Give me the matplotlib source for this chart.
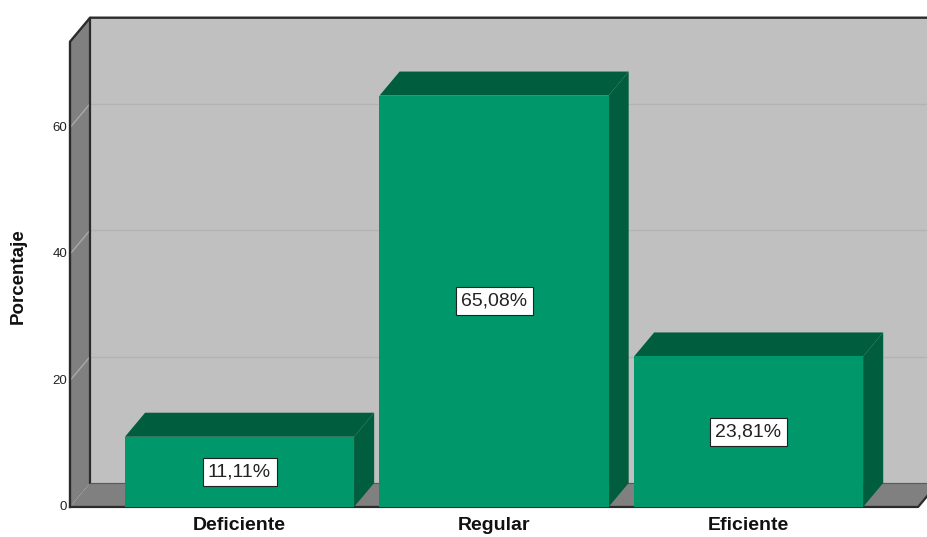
import matplotlib.pyplot as plt
from matplotlib.patches import Polygon

# data
categories = ['Deficiente', 'Regular', 'Eficiente']
percentages = [11.11, 65.08, 23.81]
value_labels = ['11,11%', '65,08%', '23,81%']
y_ticks = [0, 20, 40, 60]

# colours of the 3d box
front_green = '#00976a'
dark_green = '#005e3e'
back_wall = '#c0c0c0'
side_wall = '#808080'
edge = '#2b2b2b'

plt.rcParams['font.family'] = ['Liberation Sans', 'DejaVu Sans']


def poly(ax, pts, color, z, ec='none', lw=0):
    ax.add_patch(Polygon(pts, closed=True, facecolor=color, edgecolor=ec,
                         linewidth=lw, zorder=z))


def draw_box(ax, x_left, x_right, y_top, dx, dy):
    #back wall, left wall and floor
    poly(ax, [(x_left + dx, dy), (x_right + dx, dy), (x_right + dx, y_top + dy),
              (x_left + dx, y_top + dy)], back_wall, 1)
    poly(ax, [(x_left, 0), (x_left, y_top), (x_left + dx, y_top + dy),
              (x_left + dx, dy)], side_wall, 1)
    poly(ax, [(x_left, 0), (x_right, 0), (x_right + dx, dy),
              (x_left + dx, dy)], side_wall, 1)

    #grid lines on the back wall and the left wall
    for t in y_ticks[1:]:
        ax.plot([x_left + dx, x_right + dx], [t + dy, t + dy], color='#b3b3b3',
                lw=1, zorder=2)
        ax.plot([x_left, x_left + dx], [t, t + dy], color='#a9a9a9', lw=1, zorder=2)

    #outlines
    ax.plot([x_left, x_left, x_left + dx, x_right + dx],
            [0, y_top, y_top + dy, y_top + dy], color=edge, lw=1.7, zorder=3)
    ax.plot([x_left + dx, x_left + dx], [dy, y_top + dy], color=edge, lw=1.6, zorder=3)
    ax.plot([x_left + dx, x_right + dx], [dy, dy], color='#5a5a5a', lw=0.8, zorder=3)
    ax.plot([x_left, x_right, x_right + dx], [0, 0, dy], color=edge, lw=1.6, zorder=3)


def draw_bar(ax, x, value, width, dx, dy):
    x0 = x - width / 2
    x1 = x + width / 2
    #side and top faces first, then the front
    poly(ax, [(x1, 0), (x1 + dx, dy), (x1 + dx, value + dy), (x1, value)], dark_green, 4)
    poly(ax, [(x0, value), (x1, value), (x1 + dx, value + dy), (x0 + dx, value + dy)],
         dark_green, 4)
    poly(ax, [(x0, 0), (x1, 0), (x1, value), (x0, value)], front_green, 5)


def main():
    fig = plt.figure(figsize=(9.28, 5.37), dpi=100)
    ax = fig.add_axes([0, 0, 1, 1])
    ax.set_xlim(-0.941, 2.705)
    ax.set_ylim(-4.75, 80.2)
    ax.axis('off')

    x_left = -0.666
    x_right = len(categories) - 1 + 0.666
    y_top = 73.6
    dx = 0.079
    dy = 3.8

    draw_box(ax, x_left, x_right, y_top, dx, dy)

    for i, (cat, value, label) in enumerate(zip(categories, percentages, value_labels)):
        draw_bar(ax, i, value, 0.9, dx, dy)
        ax.text(i, value / 2, label, ha='center', va='center', fontsize=14,
                color='#222222', zorder=6,
                bbox=dict(boxstyle='square,pad=0.28', facecolor='white',
                          edgecolor='#222222', linewidth=0.8))
        ax.text(i, -2.9, cat, ha='center', va='center', fontsize=14,
                fontweight='bold', color='#111111')

    #y axis tick labels and title
    for t in y_ticks:
        ax.text(x_left - 0.012, t, str(t), ha='right', va='center', fontsize=9.5,
                color='#222222')
    ax.text(-0.87, 36.5, 'Porcentaje', rotation=90, ha='center', va='center',
            fontsize=13.5, fontweight='bold', color='#111111')

    fig.savefig('out.png', dpi=100, facecolor='white')


if __name__ == '__main__':
    main()
